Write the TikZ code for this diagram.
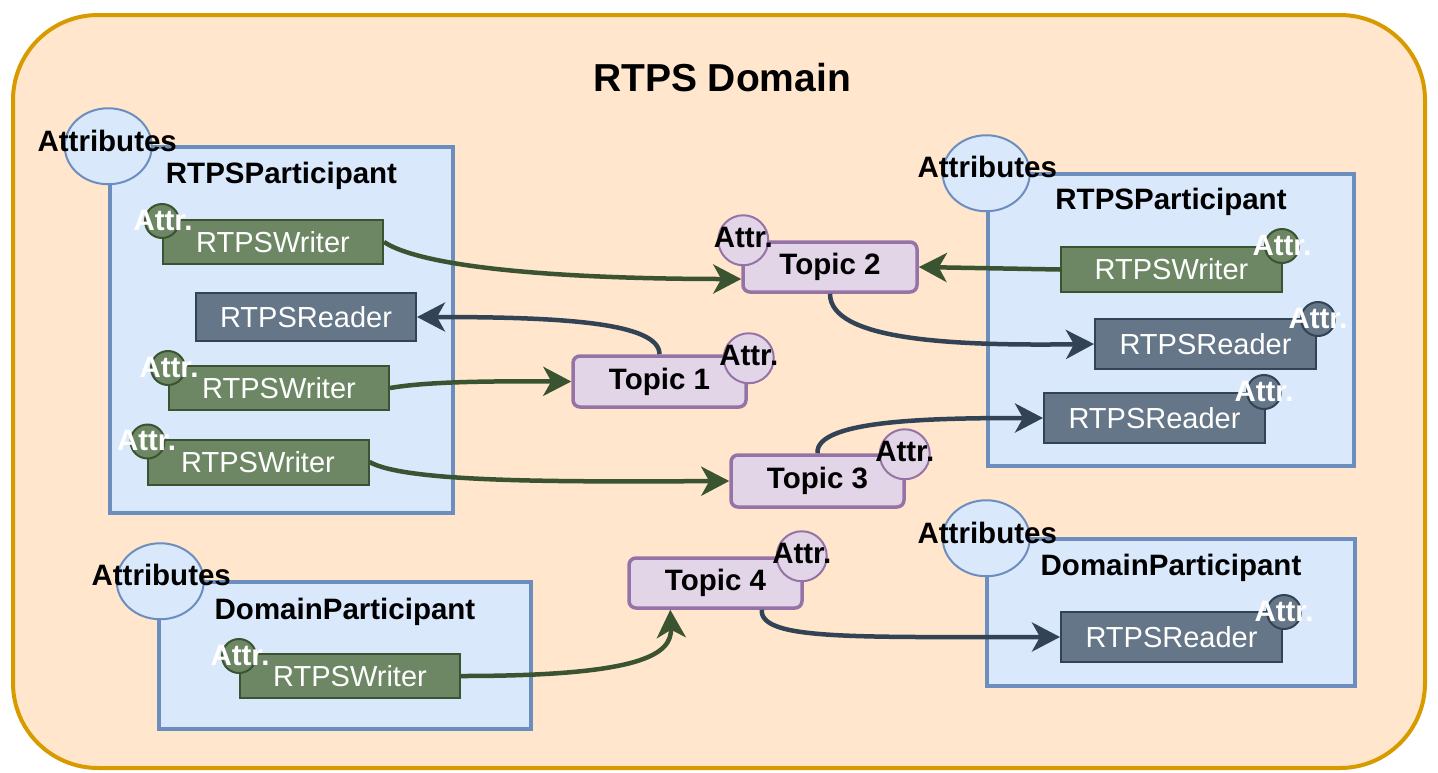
\documentclass[tikz,border=0pt]{standalone}
\usepackage{fontspec}
\setmainfont{Liberation Sans}
\usetikzlibrary{arrows.meta,shapes.geometric,calc}
\definecolor{domF}{HTML}{FFE6CC}
\definecolor{domB}{HTML}{D79B00}
\definecolor{partF}{HTML}{DAE8FC}
\definecolor{partB}{HTML}{6C8EBF}
\definecolor{wrF}{HTML}{6D8764}
\definecolor{wrB}{HTML}{3A5431}
\definecolor{rdF}{HTML}{647687}
\definecolor{rdB}{HTML}{314354}
\definecolor{tpF}{HTML}{E1D5E7}
\definecolor{tpB}{HTML}{9673A6}
\newcommand{\figlbl}{\fontsize{29}{33}\selectfont}
\newcommand{\figbold}{\fontsize{29.5}{34}\selectfont\bfseries}
\newcommand{\figtitle}{\fontsize{39}{45}\selectfont\bfseries}
\tikzset{
  part/.style={rectangle, draw=partB, fill=partF, line width=3.5pt, inner sep=0},
  attrell/.style={ellipse, draw=partB, fill=partF, line width=2pt, minimum width=87pt, minimum height=76pt, inner sep=0},
  attrtxt/.style={font=\figbold, inner sep=0},
  parttitle/.style={font=\figbold, inner sep=0},
  wr/.style={rectangle, draw=wrB, fill=wrF, line width=2pt, text=white, font=\figlbl, inner sep=0},
  rd/.style={rectangle, draw=rdB, fill=rdF, line width=2pt, text=white, font=\figlbl, inner sep=0},
  wrattr/.style={circle, draw=wrB, fill=wrF, line width=2pt, minimum size=34pt, inner sep=0},
  rdattr/.style={circle, draw=rdB, fill=rdF, line width=2pt, minimum size=34pt, inner sep=0},
  smallattr/.style={font=\figbold, text=white, inner sep=0},
  topic/.style={rectangle, rounded corners=7pt, draw=tpB, fill=tpF, line width=3.5pt, font=\figbold, minimum width=173pt, minimum height=50pt, inner sep=0},
  tpattr/.style={circle, draw=tpB, fill=tpF, line width=2pt, minimum size=50pt, inner sep=0},
  tptxt/.style={font=\figbold, text=black, inner sep=0},
  garrow/.style={draw=wrB, line width=4.5pt, -{Stealth[length=28pt,width=29pt,inset=8pt]}},
  darrow/.style={draw=rdB, line width=4.5pt, -{Stealth[length=28pt,width=29pt,inset=8pt]}},
}
\begin{document}
\begin{tikzpicture}[x=1pt,y=-1pt]
\useasboundingbox (0,0) rectangle (1438,772);
% domain
\node[rectangle, rounded corners=85pt, draw=domB, fill=domF, line width=4pt, minimum width=1412pt, minimum height=753pt, inner sep=0] (dom) at (719,391.5) {};
\node[font=\figtitle, inner sep=0] (title) at (722,78) {RTPS Domain};

% participants
\node[part, minimum width=343pt, minimum height=366pt] (p1) at (281.5,330) {};
\node[part, minimum width=366pt, minimum height=292pt] (p2) at (1171,320) {};
\node[part, minimum width=372pt, minimum height=147pt] (p3) at (345,655.5) {};
\node[part, minimum width=368pt, minimum height=147pt] (p4) at (1171,612.5) {};

\node[attrell] (e1) at ($(p1.north west)+(0,1)$) {};
\node[attrell] (e2) at ($(p2.north west)+(0,1)$) {};
\node[attrell] (e3) at ($(p3.north west)+(3,1)$) {};
\node[attrell] (e4) at ($(p4.north west)+(1,1)$) {};
\node[attrtxt] (e1t) at ($(e1.center)+(-1,-5)$) {Attributes};
\node[attrtxt] (e2t) at ($(e2.center)+(1,-6)$) {Attributes};
\node[attrtxt] (e3t) at ($(e3.center)+(1,-6)$) {Attributes};
\node[attrtxt] (e4t) at ($(e4.center)+(1,-5)$) {Attributes};

\node[parttitle] (p1t) at ($(p1.north)+(0,31)$) {RTPSParticipant};
\node[parttitle] (p2t) at ($(p2.north)+(0,30)$) {RTPSParticipant};
\node[parttitle] (p3t) at ($(p3.north)+(0,32)$) {DomainParticipant};
\node[parttitle] (p4t) at ($(p4.north)+(0,31)$) {DomainParticipant};

% writers / readers
\node[wr, minimum width=220pt, minimum height=44pt] (w1) at (273,242) {RTPSWriter};
\node[rd, minimum width=220pt, minimum height=48pt] (lr) at (306,317) {RTPSReader};
\node[wr, minimum width=220pt, minimum height=44pt] (w2) at (279,388) {RTPSWriter};
\node[wr, minimum width=221pt, minimum height=45pt] (w3) at (258,462) {RTPSWriter};
\node[wr, minimum width=221pt, minimum height=45pt] (rw) at (1171.5,269.5) {RTPSWriter};
\node[rd, minimum width=221pt, minimum height=50pt] (rr1) at (1205.5,344) {RTPSReader};
\node[rd, minimum width=221pt, minimum height=50pt] (rr2) at (1154.5,418) {RTPSReader};
\node[wr, minimum width=220pt, minimum height=44pt] (bw) at (350,676) {RTPSWriter};
\node[rd, minimum width=221pt, minimum height=50pt] (br) at (1171.5,637) {RTPSReader};

\node[wrattr] (w1a) at ($(w1.north west)+(0,2)$) {};
\node[wrattr] (w2a) at ($(w2.north west)+(0,3)$) {};
\node[wrattr] (w3a) at ($(w3.north west)+(1,3)$) {};
\node[wrattr] (bwa) at ($(bw.north west)+(0,3)$) {};
\node[wrattr] (rwa) at ($(rw.north east)+(-1,0)$) {};
\node[rdattr] (rr1a) at ($(rr1.north east)+(1,1)$) {};
\node[rdattr] (rr2a) at ($(rr2.north east)+(-2,0)$) {};
\node[rdattr] (bra) at ($(br.north east)+(1,1)$) {};
\node[smallattr] at ($(w1a.center)+(1,-1)$) {Attr.};
\node[smallattr] at ($(w2a.center)+(1,-1)$) {Attr.};
\node[smallattr] at ($(w3a.center)+(-1,-1)$) {Attr.};
\node[smallattr] at ($(bwa.center)+(1,-1)$) {Attr.};
\node[smallattr] at ($(rwa.center)+(0,-1)$) {Attr.};
\node[smallattr] at ($(rr1a.center)+(0,-1)$) {Attr.};
\node[smallattr] at ($(rr2a.center)+(0,-1)$) {Attr.};
\node[smallattr] at ($(bra.center)+(0,-1)$) {Attr.};

% topics
\node[topic, minimum height=51pt] (t1) at (659.5,381.5) {Topic 1};
\node[topic, minimum width=174pt] (t2) at (830,267) {Topic 2};
\node[topic, minimum height=52pt] (t3) at (817.5,481) {Topic 3};
\node[topic] (t4) at (715.5,583) {Topic 4};
\node[tpattr] (t1a) at ($(t1.north east)+(1,4)$) {};
\node[tpattr] (t2a) at ($(t2.north west)+(2,0)$) {};
\node[tpattr] (t3a) at ($(t3.north east)+(-1,1)$) {};
\node[tpattr] (t4a) at ($(t4.north east)+(-2,0)$) {};
\node[tptxt] at ($(t1a.center)+(0,-3)$) {Attr.};
\node[tptxt] at ($(t2a.center)+(0,-3)$) {Attr.};
\node[tptxt] at ($(t3a.center)+(0,-3)$) {Attr.};
\node[tptxt] at ($(t4a.center)+(0,-3)$) {Attr.};

% connectors
\draw[garrow] (w1.east) .. controls (430,272) and (600,279) .. ($(t2.west)+(0,12)$);
\draw[darrow] (t1.north) .. controls ($(t1.north)+(0,-32)$) and (560,317) .. (lr.east);
\draw[garrow] (w2.east) .. controls (425,382) and (480,381) .. (t1.west);
\draw[garrow] (w3.east) .. controls (405,482) and (550,482) .. (t3.west);
\draw[garrow] (rw.west) -- (t2.east);
\draw[darrow] (t2.south) .. controls (830,340) and (950,346) .. (rr1.west);
\draw[darrow] (t3.north) .. controls (815,420) and (930,418) .. (rr2.west);
\draw[garrow] (bw.east) .. controls (640,676) and (672,655) .. ($(t4.south west)+(43,0)$);
\draw[darrow] ($(t4.south east)+(-42,0)$) .. controls (760,640) and (850,637) .. (br.west);
\end{tikzpicture}
\end{document}
